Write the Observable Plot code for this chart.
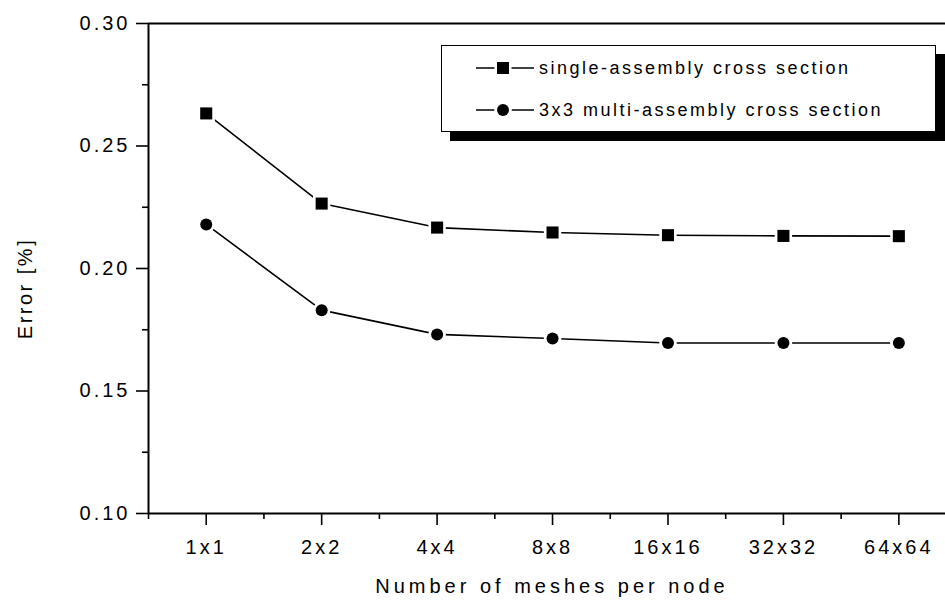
<!DOCTYPE html>
<html><head><meta charset="utf-8">
<script src="https://cdn.jsdelivr.net/npm/d3@7"></script>
<script src="https://cdn.jsdelivr.net/npm/@observablehq/plot@0.6"></script>
<style>
body{margin:0;background:#fff;overflow:hidden}
#wrap{position:relative;width:945px;height:612px;overflow:hidden}
svg text{font-family:"Liberation Sans",Arial,Helvetica,sans-serif;letter-spacing:3px}
.lg{position:absolute;font-family:"Liberation Sans",Arial,Helvetica,sans-serif;font-size:18px;line-height:20px;letter-spacing:2.5px;color:#000;white-space:nowrap}
#legendbox{position:absolute;left:441px;top:45px;width:493px;height:85px;border:1.5px solid #000;background:#fff;box-shadow:9px 9px 0 #000}
</style>
</head><body>
<div id="wrap"></div>
<script>
const categories = ["1x1","2x2","4x4","8x8","16x16","32x32","64x64"];
const seriesNames = ["single-assembly cross section","3x3 multi-assembly cross section"];
const singleValues = [0.2633,0.2265,0.2167,0.2147,0.2136,0.2133,0.2132];
const multiValues  = [0.2180,0.1830,0.1731,0.1714,0.1696,0.1696,0.1696];
const yTicks = [0.10,0.15,0.20,0.25,0.30];
const yMinorTicks = [0.125,0.175,0.225,0.275];
const xLabel = "Number of meshes per node";
const yLabel = "Error [%]";

const pos = categories.map((c,i)=>i+1);
const xMinor = [0.5,1.5,2.5,3.5,4.5,5.5,6.5];
const single = categories.map((c,i)=>({i:i+1,cat:c,v:singleValues[i],s:seriesNames[0]}));
const multi = categories.map((c,i)=>({i:i+1,cat:c,v:multiValues[i],s:seriesNames[1]}));

const chart = Plot.plot({
  width:945,height:612,
  marginLeft:148,marginRight:0,marginTop:23,marginBottom:99,
  x:{domain:[0.5,7.404],axis:null},
  y:{domain:[0.10,0.30],axis:null},
  marks:[
    Plot.axisY(yTicks,{anchor:"left",tickSize:12,tickPadding:6,tickFormat:d=>d.toFixed(2),fontSize:20,strokeWidth:1.6,label:null}),
    Plot.axisY(yMinorTicks,{anchor:"left",tickSize:6,tickFormat:()=>"",strokeWidth:1.6,label:null}),
    Plot.axisX(pos,{anchor:"bottom",tickSize:12,tickPadding:14,tickFormat:i=>categories[i-1],fontSize:20,strokeWidth:1.6,label:null}),
    Plot.axisX(xMinor,{anchor:"bottom",tickSize:6,tickFormat:()=>"",strokeWidth:1.6,label:null}),
    Plot.ruleX([0.5],{strokeWidth:2}),
    Plot.ruleY([0.10],{strokeWidth:2}),
    Plot.ruleY([0.30],{strokeWidth:2}),
    Plot.line(single,{x:"i",y:"v",stroke:"#000",strokeWidth:1.6}),
    Plot.line(multi,{x:"i",y:"v",stroke:"#000",strokeWidth:1.6}),
    Plot.dot(single,{x:"i",y:"v",symbol:"square",r:9.8,fill:"#fff",stroke:null}),
    Plot.dot(multi,{x:"i",y:"v",symbol:"circle",r:8.8,fill:"#fff",stroke:null}),
    Plot.dot(single,{x:"i",y:"v",symbol:"square",r:6.8,fill:"#000",stroke:null}),
    Plot.dot(multi,{x:"i",y:"v",symbol:"circle",r:6,fill:"#000",stroke:null}),
    Plot.text([yLabel],{frameAnchor:"left",rotate:-90,dx:-123,dy:20,fontSize:20,textAnchor:"middle"}),
    Plot.text([xLabel],{frameAnchor:"bottom",dx:5,dy:79,fontSize:20,textAnchor:"middle"})
  ]
});
const wrap = document.getElementById("wrap");
wrap.appendChild(chart);
d3.select(chart).selectAll("text").each(function(){
  const s = this.textContent;
  if (s === xLabel) this.style.letterSpacing = "4px";
  else if (s === yLabel) this.style.letterSpacing = "2.5px";
});

// legend
const box = document.createElement("div");
box.id = "legendbox";
wrap.appendChild(box);
const rowsY = [68,110];
const syms = ["square","circle"];
seriesNames.forEach((name,k)=>{
  const cy = rowsY[k];
  const sw = d3.create("svg").attr("width",64).attr("height",20)
    .style("position","absolute").style("left","473px").style("top",(cy-10)+"px");
  sw.append("line").attr("x1",3).attr("x2",61).attr("y1",10).attr("y2",10).attr("stroke","#000").attr("stroke-width",1.6);
  if (syms[k]==="square") {
    sw.append("rect").attr("x",30-8.5).attr("y",10-8.5).attr("width",17).attr("height",17).attr("fill","#fff");
    sw.append("rect").attr("x",30-6).attr("y",10-6).attr("width",12).attr("height",12).attr("fill","#000");
  } else {
    sw.append("circle").attr("cx",30).attr("cy",10).attr("r",8.8).attr("fill","#fff");
    sw.append("circle").attr("cx",30).attr("cy",10).attr("r",6).attr("fill","#000");
  }
  wrap.appendChild(sw.node());
  const t = document.createElement("div");
  t.className = "lg";
  t.textContent = name;
  t.style.left = "539px";
  t.style.top = (cy-10)+"px";
  wrap.appendChild(t);
});
</script>
</body></html>
